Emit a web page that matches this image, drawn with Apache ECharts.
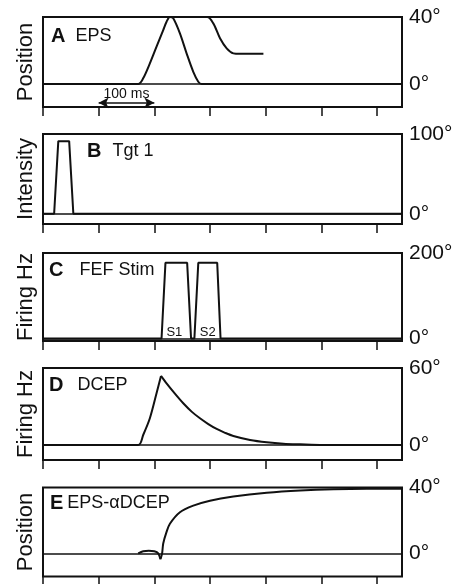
<!DOCTYPE html>
<html>
<head>
<meta charset="utf-8">
<script src="https://cdn.jsdelivr.net/npm/echarts@6/dist/echarts.min.js"></script>
<style>
html, body { margin: 0; padding: 0; background: #fff; }
#main { width: 456px; height: 584px; }
</style>
</head>
<body>
<div id="main"></div>
<script>
// time axis, ms (one tick per 100 ms)
var timeTicks = [0, 100, 200, 300, 400, 500, 600];
var timeMax = 645;

// A: eye position signal (deg)
var epsSaccade = [[0, 0], [171, 0], [180, 3.4], [192, 12.3], [204, 22.3], [216, 32.2], [222, 37.2], [228, 40],
  [234, 39.2], [246, 30.2], [258, 18.3], [270, 7.3], [279, 1.4], [285, 0], [645, 0]];
var epsHold = [[228, 40], [295, 40], [306, 36.2], [318, 27.3], [330, 21.3], [342, 18.3], [354, 18], [396, 18]];
var scaleBarMs = [100, 200];

// B: target intensity
var tgtIntensity = [[0, 0], [20, 0], [27.5, 91], [47, 91], [54.5, 0], [645, 0]];

// C: FEF stimulation trains
var fefStim = [[0, 0], [213, 0], [220, 177], [259, 177], [266, 0], [272, 0], [279, 177], [313, 177], [319, 0], [645, 0]];
var stimNames = ['S1', 'S2'];
var stimCenters = [236, 296];

// D: DCEP firing
var dcepRise = [[0, 0], [171, 0], [180, 7.8], [192, 20.8], [204, 40.3], [212, 53.8]];
var dcepDecay = [[212, 53.8], [222, 48], [237, 40], [252, 32.5], [267, 26], [282, 20.8], [297, 16.3], [312, 12.5],
  [327, 9.5], [342, 7], [372, 3.9], [402, 2.1], [432, 1], [462, 0.5], [503, 0], [645, 0]];

// E: EPS - alpha*DCEP
var diffDip = [[171, 0], [180, 1.2], [190, 1.6], [200, 1.2], [207, 0], [211, -3.6]];
var diffRise = [[211, -3.6], [214, 0], [216, 6], [222, 13], [228, 18], [246, 25], [270, 29], [300, 32], [342, 34.5],
  [402, 36.8], [462, 38.2], [522, 39], [582, 39.3], [645, 39.3]];

var panelLetters = ['A', 'B', 'C', 'D', 'E'];
var panelNames = ['EPS', 'Tgt 1', 'FEF Stim', 'DCEP', 'EPS-\u03b1DCEP'];
var axisNames = ['Position', 'Intensity', 'Firing Hz', 'Firing Hz', 'Position'];
var axisMax = [40, 100, 200, 60, 40];
var axisMin = [-13.7, -12.9, -5.8, -11.7, -14.1];

// layout
var gridTop = [17, 134, 253, 368, 487.5];
var gridHeight = [90, 90, 88, 92, 89];
var titleLeft = [51, 87, 49, 49, 50];
var titleTop = [25, 140, 259, 374, 492];
var letterGap = [10, 11, 16, 14, 4];

var font = 'Liberation Sans, Arial, Helvetica, sans-serif';
var ink = '#111';

var grids = [], xAxes = [], yAxes = [], titles = [], series = [];

for (var i = 0; i < 5; i++) {
  grids.push({
    left: 43, right: 54, top: gridTop[i], height: gridHeight[i],
    show: true, borderColor: ink, borderWidth: 2, backgroundColor: 'transparent'
  });
  xAxes.push({
    type: 'value', gridIndex: i, min: 0, max: timeMax, interval: 100,
    axisLine: { show: false, onZero: false },
    axisTick: { show: true, inside: false, length: 9, customValues: timeTicks, lineStyle: { color: ink, width: 1.5 } },
    axisLabel: { show: false },
    splitLine: { show: false }
  });
  // right axis carries the values
  yAxes.push({
    type: 'value', gridIndex: i, position: 'right', min: axisMin[i], max: axisMax[i],
    axisLine: { show: false }, axisTick: { show: false }, splitLine: { show: false },
    axisLabel: {
      show: true, customValues: [0, axisMax[i]], margin: 7,
      formatter: '{value}°', color: ink, fontSize: 21, fontFamily: font
    }
  });
  // left axis only for the name
  yAxes.push({
    type: 'value', gridIndex: i, position: 'left', min: axisMin[i], max: axisMax[i],
    name: axisNames[i], nameLocation: 'middle', nameRotate: 90, nameGap: 6,
    nameTextStyle: { color: ink, fontSize: 22, fontFamily: font },
    axisLine: { show: false, onZero: false }, axisTick: { show: false }, axisLabel: { show: false }, splitLine: { show: false }
  });
  var rich = {
    l: { fontSize: 20, fontWeight: 'bold', color: ink, fontFamily: font, lineHeight: 22 },
    g: { width: letterGap[i], lineHeight: 22 },
    t: { fontSize: 18, fontWeight: 'normal', color: ink, fontFamily: font, lineHeight: 22 }
  };
  titles.push({
    left: titleLeft[i], top: titleTop[i], padding: 0,
    text: '{l|' + panelLetters[i] + '}{g|}{t|' + panelNames[i] + '}',
    textStyle: { fontWeight: 'normal', rich: rich }
  });
}

function trace(data, p, smooth) {
  return {
    type: 'line', xAxisIndex: p, yAxisIndex: p * 2, data: data,
    showSymbol: false, symbol: 'none', smooth: smooth, z: 3,
    lineStyle: { color: ink, width: 2 }
  };
}

function zeroLine() {
  return {
    silent: true, symbol: 'none', animation: false,
    label: { show: false },
    lineStyle: { color: ink, width: 1.5, type: 'solid' },
    data: [{ yAxis: 0 }]
  };
}

// A
var a1 = trace(epsSaccade, 0, 0.3);
a1.markLine = zeroLine();
var a2 = trace(epsHold, 0, 0.3);
a2.markLine = {
  silent: true, animation: false, symbol: ['arrow', 'arrow'], symbolSize: [8, 10],
  lineStyle: { color: ink, width: 1.5, type: 'solid' },
  label: { show: true, position: 'middle', formatter: '100 ms', color: ink, fontSize: 14, fontFamily: font, distance: 2 },
  data: [[{ coord: [scaleBarMs[0], -11.2] }, { coord: [scaleBarMs[1], -11.2] }]]
};
series.push(a1, a2);

// B
var b1 = trace(tgtIntensity, 1, false);
b1.markLine = zeroLine();
series.push(b1);

// C
var c1 = trace(fefStim, 2, false);
c1.markLine = zeroLine();
c1.markPoint = {
  silent: true, animation: false, symbol: 'circle', symbolSize: 0,
  label: { show: true, position: 'inside', color: ink, fontSize: 13, fontFamily: font, formatter: '{b}' },
  data: stimNames.map(function (n, k) { return { name: n, coord: [stimCenters[k], 14] }; })
};
series.push(c1);

// D
var d1 = trace(dcepRise, 3, 0.3);
d1.markLine = zeroLine();
series.push(d1, trace(dcepDecay, 3, 0.3));

// E
var e1 = trace(diffDip, 4, 0.3);
e1.markLine = zeroLine();
series.push(e1, trace(diffRise, 4, 0.3));

var myChart = echarts.init(document.getElementById('main'));
myChart.setOption({
  animation: false,
  backgroundColor: '#fff',
  title: titles,
  grid: grids,
  xAxis: xAxes,
  yAxis: yAxes,
  series: series
});
</script>
</body>
</html>
